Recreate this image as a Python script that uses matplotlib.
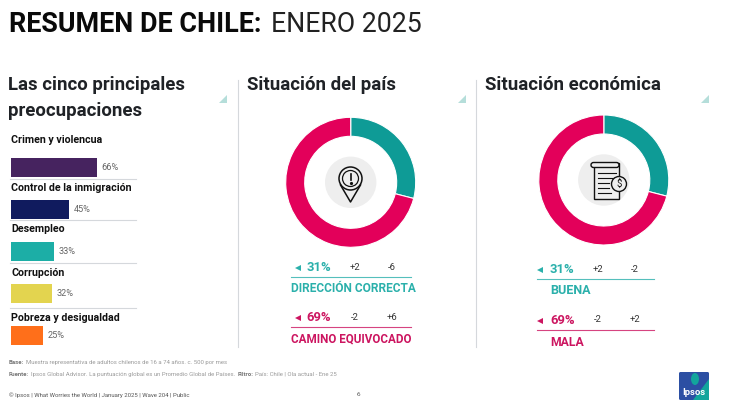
import matplotlib
matplotlib.use("Agg")
import matplotlib.pyplot as plt
from matplotlib.patches import Circle, Rectangle, Polygon, FancyBboxPatch, Ellipse

plt.rcParams['font.family'] = ['Roboto', 'DejaVu Sans']

# values
issues = ['Crimen y violencua', 'Control de la inmigración', 'Desempleo', 'Corrupción', 'Pobreza y desigualdad']
issue_pct = [66, 45, 33, 32, 25]
issue_colors = ['#46235F', '#101B5E', '#1CAEA6', '#E3D44F', '#FF6F1A']

# the rings are drawn a little short of the printed 31 / 69
pais_ring = [29, 71]
econ_ring = [29, 71]
ring_colors = ['#0E9B96', '#E3005A']

pais_rows = [('31%', '+2', '-6', 'DIRECCIÓN CORRECTA'), ('69%', '-2', '+6', 'CAMINO EQUIVOCADO')]
econ_rows = [('31%', '+2', '-2', 'BUENA'), ('69%', '-2', '+2', 'MALA')]

TEAL = '#2BB0AB'
CRIMSON = '#CC1560'
DARK = '#1F2226'
W, H = 734, 413

fig = plt.figure(figsize=(W/100, H/100), dpi=100)
ax = fig.add_axes([0, 0, 1, 1])
ax.set_xlim(0, W)
ax.set_ylim(H, 0)
ax.axis('off')

def px_axes(x0, y0, x1, y1):
    a = fig.add_axes([x0/W, 1 - y1/H, (x1-x0)/W, (y1-y0)/H])
    a.axis('off')
    return a

def text(x, y, s, size, color=DARK, weight='normal', ha='left'):
    return ax.text(x, y, s, fontsize=size, color=color, fontweight=weight, ha=ha, va='center')

# ---------------------------------------------------------------
# Title and panel headers
# ---------------------------------------------------------------
text(9, 24, 'RESUMEN DE CHILE:', 19.4, '#0A0A0A', 'bold')
text(271, 24, 'ENERO 2025', 19.2, '#222222', 'normal')

text(8, 85.5, 'Las cinco principales', 13.4, DARK, 'bold')
text(8, 110.5, 'preocupaciones', 13.4, DARK, 'bold')
text(247, 85.5, 'Situación del país', 13.4, DARK, 'bold')
text(485, 85.5, 'Situación económica', 13.4, DARK, 'bold')

for x in [227, 466, 709]:
    ax.add_patch(Polygon([[x-8, 103], [x, 103], [x, 95]], color='#B5DEDA', lw=0))
for x in [237.5, 475.5]:
    ax.plot([x, x], [80, 347], color='#D5D8DC', lw=0.8)

# ---------------------------------------------------------------
# Bars
# ---------------------------------------------------------------
bar_ax = px_axes(10.5, 146, 141.5, 357)
bar_ax.set_xlim(0, 100)
bar_ax.set_ylim(4.5, -0.5)
bar_ax.barh(range(5), issue_pct, height=0.45, color=issue_colors)
for i, v in enumerate(issue_pct):
    bar_ax.text(v + 3.5, i, str(v) + '%', fontsize=6.6, color='#666666', va='center')

label_y = [140, 188, 229, 273, 318]
for s, y in zip(issues, label_y):
    text(11, y, s, 7.7, '#111111', 'bold')
for y in [178.5, 219.5, 263, 308]:
    ax.plot([10, 136], [y, y], color='#D5D8DC', lw=0.8)

# ---------------------------------------------------------------
# Rings
# ---------------------------------------------------------------
def ring(cx, cy, values):
    r = 65
    a = px_axes(cx-r, cy-r, cx+r, cy+r)
    a.pie(values, colors=ring_colors, startangle=90, counterclock=False, radius=1,
          wedgeprops=dict(width=19/65, edgecolor='white', linewidth=0.8))
    a.set_xlim(-1, 1)
    a.set_ylim(-1, 1)
    ax.add_patch(Circle((cx, cy), 25.7, color='#EEEEEE', lw=0, zorder=1))

ring(350.7, 182.3, pais_ring)
ring(603.8, 180, econ_ring)

# pin icon
ax.add_patch(Circle((350.5, 178.5), 11.5, fc='none', ec='#111111', lw=1.1, zorder=3))
ax.add_patch(Circle((350.5, 178.5), 8, fc='none', ec='#111111', lw=0.9, zorder=3))
ax.plot([340.5, 350.5, 360.5], [185, 202, 185], color='#111111', lw=1.1, zorder=3)
ax.plot([350.5, 350.5], [173.5, 180], color='#111111', lw=1.2, zorder=3)
ax.plot([350.5], [183], marker='o', ms=1.3, color='#111111', zorder=3)

# invoice icon
ax.add_patch(Rectangle((594, 163), 25, 35.5, fc='none', ec='#111111', lw=1.0, zorder=3))
ax.add_patch(FancyBboxPatch((591, 162.5), 28, 5, boxstyle='round,pad=0,rounding_size=2.5',
                            fc='#EEEEEE', ec='#111111', lw=1.0, zorder=3))
for y, x1 in zip([173, 178, 183, 188, 193], [616, 616, 609, 609, 611]):
    ax.plot([598, x1], [y, y], color='#111111', lw=0.8, zorder=3)
ax.add_patch(Circle((619, 184), 7.5, fc='#EEEEEE', ec='#111111', lw=1.0, zorder=4))
ax.text(619, 184, '$', fontsize=7, color='#111111', ha='center', va='center', zorder=5)

# ---------------------------------------------------------------
# Readouts under the rings
# ---------------------------------------------------------------
def readout(row, color, y, tri_x, pct_x, a_x, b_x, line, label_x, label_ha, label_size):
    pct, d1, d2, name = row
    ax.plot([tri_x], [y], marker='<', ms=5, color=color, mew=0)
    text(pct_x, y-0.5, pct, 9.4, color, 'bold')
    text(a_x, y-1, d1, 6.8, '#333333', ha='center')
    text(b_x, y-1, d2, 6.8, '#333333', ha='center')
    ax.plot(line, [y+9, y+9], color=color, lw=0.8, alpha=0.8)
    ax.text(label_x, y+21, name, fontsize=label_size, color=color, fontweight='bold', ha=label_ha, va='center')

readout(pais_rows[0], TEAL, 268, 298, 306.5, 355, 392, [291, 411], 353, 'center', 8.6)
readout(pais_rows[1], CRIMSON, 318, 298, 306.5, 355, 392, [291, 411], 351, 'center', 8.4)
readout(econ_rows[0], TEAL, 270, 540, 550, 598, 635, [537, 654], 550, 'left', 9)
readout(econ_rows[1], CRIMSON, 321, 540, 550, 598, 635, [537, 654], 550, 'left', 8.8)

# ---------------------------------------------------------------
# Footer
# ---------------------------------------------------------------
GREY = '#9A9A9A'
text(9, 362.5, 'Base:', 4.3, '#777777', 'bold')
text(26, 362.5, 'Muestra representativa de adultos chilenos de 16 a 74 años. c. 500 por mes', 4.3, GREY)
text(9, 374.5, 'Fuente:', 4.3, '#777777', 'bold')
text(31, 374.5, 'Ipsos Global Advisor. La puntuación global es un Promedio Global de Países.', 4.3, GREY)
text(238, 374.5, 'Filtro:', 4.3, '#777777', 'bold')
text(255, 374.5, 'País: Chile | Ola actual - Ene 25', 4.3, GREY)
text(9, 395, '© Ipsos | What Worries the World | January 2025 | Wave 204 | Public', 4.3, '#555555')
text(358, 395, '6', 4.6, '#555555', ha='center')

# logo
ax.add_patch(FancyBboxPatch((679, 372), 30, 28, boxstyle='round,pad=0,rounding_size=1.5', color='#2C4FA3', lw=0))
ax.add_patch(Polygon([[693, 400], [709, 379], [709, 400]], color='#12A59C', lw=0))
ax.add_patch(Ellipse((695, 379), 8, 12, color='#12A59C', lw=0))
text(694, 392.5, 'Ipsos', 6.8, 'white', 'bold', ha='center')

fig.savefig('out.png', dpi=100)
